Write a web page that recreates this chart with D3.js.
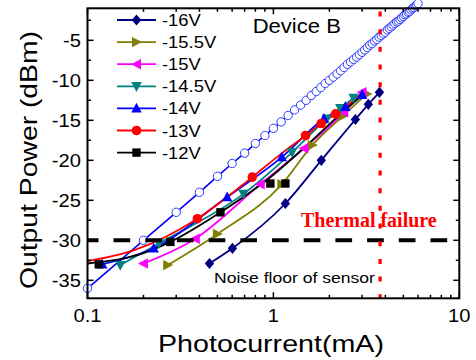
<!DOCTYPE html>
<html>
<head>
<meta charset="utf-8">
<script src="https://cdn.jsdelivr.net/npm/d3@7"></script>
<style>
  body { margin: 0; background: #fff; }
  text { font-family: "Liberation Sans", Arial, sans-serif; }
</style>
</head>
<body>
<svg id="chart" width="476" height="360"></svg>
<script>
// ---- Photodetector output power vs photocurrent, Device B ----

// legend labels (bias voltages)
const voltages = ["-16V", "-15.5V", "-15V", "-14.5V", "-14V", "-13V", "-12V"];

// measured points per bias: photocurrent (mA) and output power (dBm)
const i16 = [0.453, 0.602, 1.16, 1.81, 2.76, 3.24, 3.72];
const p16 = [-32.9, -31.0, -25.4, -20.0, -14.9, -13.0, -11.5];

const i155 = [0.27, 0.50, 1.11, 1.62, 2.35, 3.19];
const p155 = [-33.1, -29.2, -23.0, -18.1, -14.5, -11.7];

const i15 = [0.20, 0.38, 0.85, 1.46, 2.39, 3.0];
const p15 = [-32.9, -29.8, -23.0, -18.5, -14.0, -11.5];

const i145 = [0.15, 0.242, 0.69, 1.26, 1.94, 2.29, 2.70];
const p145 = [-33.1, -30.4, -24.2, -19.0, -14.8, -13.5, -12.2];

const i14 = [0.12, 0.227, 0.564, 1.11, 1.87, 2.44, 3.0];
const p14 = [-33.0, -31.0, -24.6, -19.6, -14.8, -13.3, -11.8];

const i13 = [0.39, 0.77, 1.49, 1.81, 2.16];
const p13 = [-27.3, -22.1, -16.9, -15.4, -14.2];

const i12 = [0.115, 0.279, 0.519, 0.963, 1.16];
const p12 = [-33.0, -30.2, -26.5, -22.9, -22.9];

// fitted curves that extend past the measured points (-13V and -12V)
const fitI13 = [0.1, 0.18, 0.39, 0.77, 1.1, 1.49, 1.81, 2.16, 2.95];
const fitP13 = [-32.6, -31.2, -27.3, -22.1, -19.2, -16.9, -15.4, -14.2, -11.8];
const fitI12 = [0.1, 0.2, 0.279, 0.519, 1.0, 1.6, 2.2, 2.9];
const fitP12 = [-32.9, -31.6, -30.2, -26.5, -21.8, -17.6, -14.6, -12.2];

// reference trace (open circles), photocurrent in 0.1 mA steps
const refI = [0.1,0.2,0.3,0.4,0.5,0.6,0.7,0.8,0.9,1.0,1.1,1.2,1.3,1.4,1.5,1.6,1.7,1.8,1.9,2.0,
              2.1,2.2,2.3,2.4,2.5,2.6,2.7,2.8,2.9,3.0,3.1,3.2,3.3,3.4,3.5,3.6,3.7,3.8,3.9,4.0,
              4.1,4.2,4.3,4.4,4.5,4.6,4.7,4.8,4.9,5.0,5.1,5.2,5.3,5.4,5.5,5.6,5.7,5.8,5.9,6.0];
const refP = [-36.0,-30.0,-26.5,-24.0,-22.0,-20.4,-19.1,-17.9,-16.9,-16.0,-15.2,-14.4,-13.7,-13.1,-12.5,
              -11.9,-11.4,-10.9,-10.4,-10.0,-9.6,-9.2,-8.8,-8.4,-8.0,-7.7,-7.4,-7.1,-6.8,-6.5,
              -6.2,-5.9,-5.6,-5.4,-5.1,-4.9,-4.6,-4.4,-4.2,-4.0,-3.7,-3.5,-3.3,-3.1,-2.9,
              -2.7,-2.6,-2.4,-2.2,-2.0,-1.8,-1.7,-1.5,-1.4,-1.2,-1.0,-0.9,-0.7,-0.6,-0.4];

// reference levels
const noiseFloor = -30;        // dBm
const thermalLimit = 3.75;     // mA

// axis ticks
const xTickValues = [0.1, 1, 10];
const xTickLabels = ["0.1", "1", "10"];
const yTickValues = [-35, -30, -25, -20, -15, -10, -5];
const yTickLabels = ["-35", "-30", "-25", "-20", "-15", "-10", "-5"];

// ---- layout ----
const svg = d3.select("#chart");
const L = 87.5, R = 459.3, T = 8.3, B = 298.3;

const x = d3.scaleLog().domain([0.1, 10]).range([L, R]);
const y = d3.scaleLinear().domain([-37.25, -1]).range([B, T]);

const series = [
  { label: voltages[0], color: "#000080", shape: "diamond", I: i16,  P: p16 },
  { label: voltages[1], color: "#808000", shape: "right",   I: i155, P: p155 },
  { label: voltages[2], color: "#ff00ff", shape: "left",    I: i15,  P: p15 },
  { label: voltages[3], color: "#008080", shape: "down",    I: i145, P: p145 },
  { label: voltages[4], color: "#0000ff", shape: "up",      I: i14,  P: p14 },
  { label: voltages[5], color: "#ff0000", shape: "circle",  I: i13,  P: p13, fI: fitI13, fP: fitP13 },
  { label: voltages[6], color: "#000000", shape: "square",  I: i12,  P: p12, fI: fitI12, fP: fitP12 }
];

function markerPath(shape) {
  switch (shape) {
    case "diamond": return "M0,-5.6L4.7,0L0,5.6L-4.7,0Z";
    case "right":   return "M-4.5,-5.2L5.5,0L-4.5,5.2Z";
    case "left":    return "M4.5,-5.2L-5.5,0L4.5,5.2Z";
    case "down":    return "M-5.2,-4.2L5.2,-4.2L0,5.6Z";
    case "up":      return "M-5.2,4.2L5.2,4.2L0,-5.6Z";
    case "square":  return "M-4.2,-4.2H4.2V4.2H-4.2Z";
    case "circle":  return d3.symbol(d3.symbolCircle, Math.PI * 4.8 * 4.8)();
  }
}

// stretched text helper (glyphs drawn a bit wider than the base face)
function label(parent, px, py, str, size, sx, anchor, extra) {
  const t = parent.append("text")
    .attr("transform", `translate(${px},${py}) scale(${sx},1)`)
    .attr("font-size", size)
    .attr("text-anchor", anchor || "start")
    .text(str);
  if (extra) extra(t);
  return t;
}

const line = d3.line().curve(d3.curveMonotoneX);

// ---- reference trace ----
const refPts = refI.map((v, k) => [x(v), y(refP[k])]);
svg.append("path")
  .attr("d", line.curve(d3.curveLinear)(refPts))
  .attr("fill", "none").attr("stroke", "#0000ff").attr("stroke-width", 1.6);
svg.append("g").selectAll("circle").data(refPts).join("circle")
  .attr("cx", d => d[0]).attr("cy", d => d[1]).attr("r", 4.2)
  .attr("fill", "#fff").attr("stroke", "#2b3cff").attr("stroke-width", 1);

// ---- bias series ----
series.forEach(s => {
  const lI = s.fI || s.I, lP = s.fP || s.P;
  const pts = lI.map((v, k) => [x(v), y(lP[k])]);
  svg.append("path")
    .attr("d", d3.line().curve(d3.curveMonotoneX)(pts))
    .attr("fill", "none").attr("stroke", s.color).attr("stroke-width", 1.8);
});
series.forEach(s => {
  svg.append("g").selectAll("path").data(s.I.map((v, k) => [x(v), y(s.P[k])])).join("path")
    .attr("transform", d => `translate(${d[0]},${d[1]})`)
    .attr("d", markerPath(s.shape))
    .attr("fill", s.color);
});

// ---- noise floor and thermal limit ----
svg.append("line")
  .attr("x1", L).attr("x2", R).attr("y1", y(noiseFloor)).attr("y2", y(noiseFloor))
  .attr("stroke", "#000").attr("stroke-width", 4)
  .attr("stroke-dasharray", "16.7 15").attr("stroke-dashoffset", 5.7);
svg.append("line")
  .attr("x1", x(thermalLimit)).attr("x2", x(thermalLimit)).attr("y1", 11.5).attr("y2", 299)
  .attr("stroke", "#ff0000").attr("stroke-width", 3.2)
  .attr("stroke-dasharray", "5 12.67");

// ---- frame and ticks ----
svg.append("rect").attr("x", L).attr("y", T).attr("width", R - L).attr("height", B - T)
  .attr("fill", "none").attr("stroke", "#000").attr("stroke-width", 2);

const ticks = svg.append("g").attr("stroke", "#000").attr("stroke-width", 1.5);
const xMinor = [];
[0.1, 1].forEach(d => { for (let m = 2; m <= 9; m++) xMinor.push(d * m); });
xTickValues.forEach(v => {
  ticks.append("line").attr("x1", x(v)).attr("x2", x(v)).attr("y1", B).attr("y2", B - 6);
  ticks.append("line").attr("x1", x(v)).attr("x2", x(v)).attr("y1", T).attr("y2", T + 6);
});
xMinor.forEach(v => {
  ticks.append("line").attr("x1", x(v)).attr("x2", x(v)).attr("y1", B).attr("y2", B - 3.5);
  ticks.append("line").attr("x1", x(v)).attr("x2", x(v)).attr("y1", T).attr("y2", T + 3.5);
});
const yMinor = d3.range(-32.5, -1, 5);
yTickValues.forEach(v => {
  ticks.append("line").attr("x1", L).attr("x2", L + 6).attr("y1", y(v)).attr("y2", y(v));
  ticks.append("line").attr("x1", R).attr("x2", R - 6).attr("y1", y(v)).attr("y2", y(v));
});
yMinor.forEach(v => {
  ticks.append("line").attr("x1", L).attr("x2", L + 3.5).attr("y1", y(v)).attr("y2", y(v));
  ticks.append("line").attr("x1", R).attr("x2", R - 3.5).attr("y1", y(v)).attr("y2", y(v));
});

// tick labels
xTickValues.forEach((v, k) => label(svg, x(v), 322, xTickLabels[k], 18, 1.12, "middle"));
yTickValues.forEach((v, k) => label(svg, 81, y(v) + 6.5, yTickLabels[k], 18, 1.12, "end"));

// axis titles
svg.append("text").attr("x", 271).attr("y", 352).attr("font-size", 24)
  .attr("text-anchor", "middle").attr("textLength", 226).attr("lengthAdjust", "spacingAndGlyphs")
  .text("Photocurrent(mA)");
svg.append("text").attr("transform", "translate(37,160) rotate(-90)").attr("font-size", 24)
  .attr("text-anchor", "middle").attr("textLength", 258).attr("lengthAdjust", "spacingAndGlyphs")
  .text("Output Power (dBm)");

// annotations
label(svg, 252.7, 33.3, "Device B", 19.5, 1.13);
label(svg, 214, 283.3, "Noise floor of sensor", 15, 1.17);
svg.append("text").attr("x", 301).attr("y", 227).attr("font-size", 20)
  .attr("font-weight", "bold").attr("fill", "#ff0000")
  .style("font-family", "'Liberation Serif', 'Times New Roman', serif")
  .text("Thermal failure");

// ---- legend ----
const legend = svg.append("g");
series.forEach((s, k) => {
  const ry = 20 + k * 22.1;
  legend.append("line").attr("x1", 117).attr("x2", 156).attr("y1", ry).attr("y2", ry)
    .attr("stroke", s.color).attr("stroke-width", 1.8);
  legend.append("path").attr("transform", `translate(136.5,${ry})`)
    .attr("d", markerPath(s.shape)).attr("fill", s.color);
  label(legend, 162, ry + 6, s.label, 16, 1.15);
});
</script>
</body>
</html>
